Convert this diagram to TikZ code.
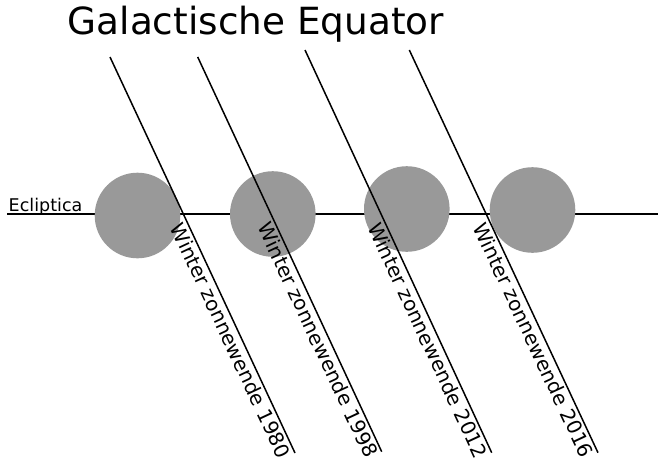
\documentclass[tikz,border=0pt]{standalone}
\usepackage{fontspec}
\setmainfont{DejaVu Sans}
\definecolor{sungray}{HTML}{999999}
\begin{document}
\begin{tikzpicture}[x=1pt,y=-1pt,line width=1.5pt]
  \useasboundingbox (0,0) rectangle (658,466);
  \tikzset{sunbody/.style={circle,fill=sungray,inner sep=0pt,minimum size=85.6pt},
    yearlabel/.style={sloped,anchor=north west,inner sep=2pt,font=\fontsize{20}{24}\selectfont}}
  % title
  \node[anchor=base west,inner sep=0pt,font=\fontsize{37.4}{42}\selectfont] (title) at (67,34) {Galactische Equator};
  % ecliptic
  \coordinate (eclW) at (7,214.3);
  \coordinate (eclE) at (658,214.3);
  \draw[line width=2pt] (eclW) -- (eclE);
  \node[anchor=base west,inner sep=0pt,font=\fontsize{17.5}{20}\selectfont] (ecl) at (8,211) {Ecliptica};
  % sun positions
  \foreach \i/\x/\y in {1/137.5/215.5,2/272.8/214,3/406.8/209,4/532.5/210}
    {\node[sunbody] (sun\i) at (\x,\y) {};}
  % galactic equator at each solstice
  \foreach \i/\xt/\yt/\xb/\yb/\p/\yr in {1/110/57/295/453/0.405/1980,2/197.7/57/381.7/451.7/0.405/1998,
      3/305/50/491.7/452.7/0.415/2012,4/409.3/50/598/452.7/0.415/2016}{
    \coordinate (top\i) at (\xt,\yt);
    \coordinate (bot\i) at (\xb,\yb);
    \draw (top\i) -- node[yearlabel,pos=\p] (lbl\i) {Winter zonnewende \yr} (bot\i);}
\end{tikzpicture}
\end{document}
